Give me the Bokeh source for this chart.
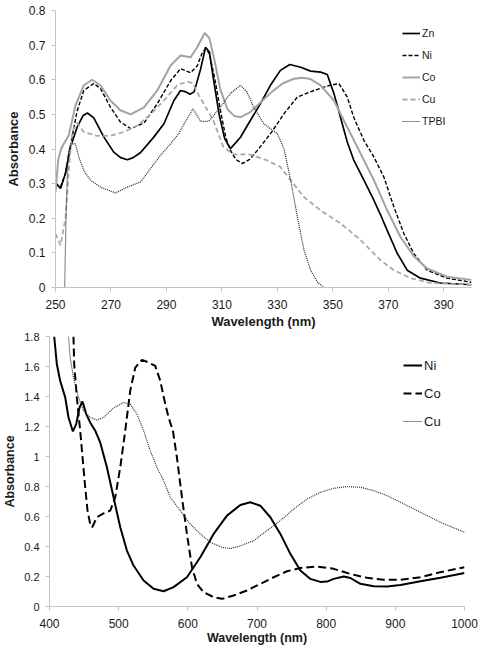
from bokeh.plotting import figure
from bokeh.models import Legend, LegendItem, FixedTicker, Range1d
from bokeh.layouts import column
from bokeh.embed import file_html
from bokeh.resources import INLINE

# ---------------- top chart data (UV region) ----------------
zn_x = [250, 251.8, 253.6, 255.4, 257.8, 260, 261.5, 263.8, 267.4, 271, 273.5, 275.9, 278, 280.7,
        285.5, 289.1, 292.7, 295.1, 297, 298.5, 300, 302.3, 304.1, 305.5, 307, 309, 311, 313.1,
        316.7, 320.3, 323.9, 327.5, 331.1, 334.5, 338.4, 342, 345.6, 348, 350.4, 352.8, 355.2,
        357.6, 361.2, 364.8, 367.2, 369.6, 373.2, 376.8, 381.6, 388.8, 400]
zn_y = [0.302, 0.286, 0.33, 0.406, 0.463, 0.497, 0.504, 0.49, 0.435, 0.391, 0.375, 0.369, 0.375, 0.39,
        0.435, 0.473, 0.54, 0.569, 0.565, 0.558, 0.565, 0.63, 0.694, 0.68, 0.6, 0.5, 0.43, 0.401,
        0.434, 0.483, 0.531, 0.584, 0.627, 0.644, 0.636, 0.625, 0.622, 0.615, 0.56, 0.49, 0.42,
        0.367, 0.31, 0.252, 0.21, 0.165, 0.099, 0.05, 0.027, 0.013, 0.008]

ni_x = [250, 251.8, 253.6, 255.4, 257.8, 260.2, 263.8, 266.2, 269.8, 273.4, 277.1, 281.9, 286.7,
        291.5, 295.1, 298.7, 301.1, 303, 304.3, 305.5, 307.5, 309.5, 311.5, 313.1, 315, 317.4, 320,
        322.8, 327.6, 332.4, 337.2, 343.2, 348, 352.2, 355.2, 357.6, 361.2, 364.8, 368.4, 372,
        375.6, 379.2, 384, 391.2, 400]
ni_y = [0.30, 0.29, 0.33, 0.41, 0.51, 0.569, 0.589, 0.575, 0.521, 0.478, 0.459, 0.475, 0.531,
        0.597, 0.632, 0.62, 0.64, 0.68, 0.69, 0.675, 0.6, 0.51, 0.43, 0.396, 0.37, 0.358, 0.37,
        0.396, 0.445, 0.502, 0.55, 0.569, 0.582, 0.589, 0.55, 0.49, 0.425, 0.377, 0.319, 0.233,
        0.156, 0.098, 0.05, 0.027, 0.015]

co_x = [250, 251, 252, 253, 254.8, 257.2, 260.2, 263.2, 266.2, 269.8, 273.4, 277.1, 281.9, 286.7,
        291.5, 295.1, 298.7, 301.1, 303.8, 305.5, 307.5, 309.5, 312, 314.5, 316.7, 320, 324, 328,
        332, 336, 339, 342, 345.6, 350.4, 355.2, 360, 364.8, 369.6, 374.4, 379.2, 384, 391.2, 400]
co_y = [0.275, 0.37, 0.40, 0.415, 0.44, 0.526, 0.584, 0.60, 0.584, 0.54, 0.512, 0.50, 0.52, 0.569,
        0.641, 0.67, 0.665, 0.694, 0.735, 0.72, 0.65, 0.57, 0.515, 0.495, 0.492, 0.505, 0.535, 0.565,
        0.59, 0.603, 0.606, 0.602, 0.584, 0.54, 0.463, 0.387, 0.31, 0.223, 0.146, 0.09, 0.055, 0.031,
        0.022]

cu_x = [250, 251.8, 253.6, 254.8, 256, 257.8, 260.2, 265, 269.8, 274.6, 279.5, 284.3, 289.1, 293.9,
        297.5, 299.5, 301.7, 303.5, 306.9, 310.5, 314.1, 320.3, 326.3, 331.1, 334.8, 339.6, 345.6,
        352.8, 360, 367.2, 372, 378, 385.2, 400]
cu_y = [0.156, 0.122, 0.2, 0.34, 0.45, 0.475, 0.449, 0.438, 0.438, 0.449, 0.468, 0.5, 0.54, 0.584,
        0.595, 0.59, 0.555, 0.53, 0.483, 0.406, 0.385, 0.384, 0.367, 0.348, 0.31, 0.261, 0.223,
        0.185, 0.137, 0.079, 0.05, 0.027, 0.013, 0.008]

tpbi_x = [253.3, 253.8, 254.5, 255.4, 257.2, 258.4, 260.2, 262.6, 266.2, 271.6, 275.9, 280.7, 284.3,
          287.9, 291.5, 294.5, 297.5, 299.6, 302.3, 305.3, 309.5, 313, 316.7, 319, 321.5, 325.1,
          330, 332.4, 334.8, 337.2, 339.6, 342, 344.5, 346.8]
tpbi_y = [0.0, 0.2, 0.38, 0.415, 0.415, 0.377, 0.338, 0.31, 0.29, 0.273, 0.29, 0.305, 0.344,
          0.382, 0.415, 0.445, 0.488, 0.516, 0.48, 0.48, 0.521, 0.56, 0.584, 0.565, 0.52, 0.473,
          0.444, 0.4, 0.31, 0.204, 0.108, 0.05, 0.015, 0.0]

top_xticks = [250, 270, 290, 310, 330, 350, 370, 390]
top_yticks = [0, 0.1, 0.2, 0.3, 0.4, 0.5, 0.6, 0.7, 0.8]
top_ylabels = ["0", "0.1", "0.2", "0.3", "0.4", "0.5", "0.6", "0.7", "0.8"]

# ---------------- bottom chart data (visible region) ----------------
b_ni_x = [406.8, 410.6, 415.4, 422.7, 427.5, 433.8, 438.6, 443.4, 447.7, 453.1, 458.8, 466.1, 473.3,
          483, 492.6, 502.3, 511.9, 521.5, 536, 550.5, 565, 579.4, 598.7, 618, 637.3, 656.6, 675.9,
          690.4, 704.8, 719.3, 733.8, 748.2, 762.7, 777.2, 791.6, 801.3, 810.9, 825.4, 835, 849.5,
          868.8, 888.1, 907.4, 936.3, 965.3, 1000]
b_ni_y = [1.8, 1.616, 1.505, 1.394, 1.26, 1.167, 1.216, 1.327, 1.367, 1.283, 1.227, 1.172, 1.094,
          0.928, 0.728, 0.528, 0.373, 0.273, 0.173, 0.118, 0.102, 0.129, 0.195, 0.328, 0.484, 0.606,
          0.677, 0.695, 0.672, 0.595, 0.484, 0.351, 0.24, 0.184, 0.164, 0.166, 0.184, 0.2, 0.19,
          0.151, 0.135, 0.133, 0.144, 0.169, 0.191, 0.224]

b_co_x = [434.7, 435.7, 439.5, 444.4, 448.2, 451.6, 455, 458.8, 461.7, 468.5, 478.1, 487.8, 495,
          502.3, 509.5, 516.7, 524, 533.6, 543.2, 552.9, 560.1, 567.4, 572.2, 578.5, 584.2, 591.5,
          598.7, 606, 613.2, 622.8, 637.3, 649.4, 666.2, 685.5, 704.8, 724.1, 743.4, 762.7, 786.8,
          810.9, 835, 859.2, 883.3, 907.4, 936.3, 965.3, 1000]
b_co_y = [1.8, 1.616, 1.394, 1.17, 0.972, 0.794, 0.639, 0.55, 0.528, 0.595, 0.621, 0.639, 0.728,
          0.928, 1.172, 1.438, 1.593, 1.644, 1.627, 1.604, 1.505, 1.349, 1.26, 1.17, 0.994, 0.728,
          0.484, 0.262, 0.151, 0.095, 0.062, 0.051, 0.073, 0.107, 0.151, 0.195, 0.235, 0.257, 0.266,
          0.251, 0.217, 0.191, 0.178, 0.178, 0.195, 0.229, 0.262]

b_cu_x = [427.5, 429.9, 434.7, 442, 449.2, 458.8, 468.5, 478.1, 492.6, 507.1, 516.7, 526.4, 536,
          545.7, 555.3, 565, 574.6, 589.1, 603.5, 618, 632.5, 649.4, 661.4, 675.9, 695.2, 714.5,
          733.8, 753.1, 772.4, 791.6, 810.9, 830.2, 849.5, 868.8, 888.1, 907.4, 926.7, 946, 965.3,
          984.6, 1000]
b_cu_y = [1.8, 1.66, 1.527, 1.394, 1.305, 1.26, 1.243, 1.26, 1.323, 1.36, 1.349, 1.283, 1.172,
          1.039, 0.928, 0.839, 0.728, 0.639, 0.55, 0.484, 0.428, 0.395, 0.386, 0.404, 0.439, 0.506,
          0.573, 0.65, 0.717, 0.761, 0.788, 0.799, 0.795, 0.772, 0.739, 0.695, 0.65, 0.606, 0.561,
          0.524, 0.495]

bot_xticks = [400, 500, 600, 700, 800, 900, 1000]
bot_yticks = [0, 0.2, 0.4, 0.6, 0.8, 1.0, 1.2, 1.4, 1.6, 1.8]
bot_ylabels = ["0", "0.2", "0.4", "0.6", "0.8", "1", "1.2", "1.4", "1.6", "1.8"]

FONT = "Liberation Sans"
AXIS_COL = "#c4c4c4"
TXT = "#1a1a1a"


def style(p, xticks, yticks, ylabels, xlabel_size, ylabel_size, ytick_size,
          x_std, x_lab_std, y_std, y_lab_std):
    p.grid.visible = False
    p.outline_line_color = None
    p.xaxis.ticker = FixedTicker(ticks=xticks)
    p.yaxis.ticker = FixedTicker(ticks=yticks)
    p.yaxis.major_label_overrides = {t: l for t, l in zip(yticks, ylabels)}
    for ax in (p.xaxis[0], p.yaxis[0]):
        ax.axis_line_color = AXIS_COL
        ax.major_tick_line_color = AXIS_COL
        ax.minor_tick_line_color = None
        ax.major_tick_in = 0
        ax.major_tick_out = 4
        ax.major_label_text_font = FONT
        ax.major_label_text_color = TXT
        ax.axis_label_text_font = FONT
        ax.axis_label_text_font_style = "bold"
        ax.axis_label_text_color = TXT
    p.xaxis.major_label_text_font_size = "12px"
    p.yaxis.major_label_text_font_size = ytick_size
    p.xaxis.axis_label_text_font_size = xlabel_size
    p.yaxis.axis_label_text_font_size = ylabel_size
    p.xaxis.major_label_standoff = x_std
    p.xaxis.axis_label_standoff = x_lab_std
    p.yaxis.major_label_standoff = y_std
    p.yaxis.axis_label_standoff = y_lab_std


# ---------------- top figure ----------------
p1 = figure(width=483, height=331, output_backend="svg", toolbar_location=None,
            x_range=Range1d(250, 400), y_range=Range1d(0, 0.8), frame_align=False,
            min_border_left=55, min_border_right=12, min_border_top=10, min_border_bottom=44)
p1.xaxis.axis_label = "Wavelength (nm)"
p1.yaxis.axis_label = "Absorbance"
style(p1, top_xticks, top_yticks, top_ylabels, "13px", "13px", "12px", 8, 2, 6, 5)

r_zn = p1.line(zn_x, zn_y, line_color="black", line_width=1.7)
r_ni = p1.line(ni_x, ni_y, line_color="black", line_width=1.4, line_dash="4 2")
r_co = p1.line(co_x, co_y, line_color="#a3a3a3", line_width=2.0)
r_cu = p1.line(cu_x, cu_y, line_color="#aaaaaa", line_width=1.8, line_dash="5 3")
r_tp = p1.line(tpbi_x, tpbi_y, line_color="#222222", line_width=1.2, line_dash="1 1")

leg1 = Legend(items=[LegendItem(label="Zn", renderers=[r_zn]),
                     LegendItem(label="Ni", renderers=[r_ni]),
                     LegendItem(label="Co", renderers=[r_co]),
                     LegendItem(label="Cu", renderers=[r_cu]),
                     LegendItem(label="TPBI", renderers=[r_tp])],
              location=(347, 158), orientation="vertical",
              glyph_width=18, glyph_height=16, label_height=16, spacing=6,
              label_standoff=2, padding=0, margin=0,
              label_text_font=FONT, label_text_font_size="10.5px", label_text_color=TXT,
              border_line_color=None, background_fill_alpha=0)
p1.add_layout(leg1)

# ---------------- bottom figure ----------------
p2 = figure(width=483, height=321, output_backend="svg", toolbar_location=None,
            x_range=Range1d(400, 1000), y_range=Range1d(0, 1.8), frame_align=False,
            min_border_left=49, min_border_right=19, min_border_top=5, min_border_bottom=46)
p2.xaxis.axis_label = "Wavelength (nm)"
p2.yaxis.axis_label = "Absorbance"
style(p2, bot_xticks, bot_yticks, bot_ylabels, "12.5px", "12.5px", "11px", 8, 0, 6, 4)

q_ni = p2.line(b_ni_x, b_ni_y, line_color="black", line_width=2.0)
q_co = p2.line(b_co_x, b_co_y, line_color="black", line_width=2.0, line_dash="8 4")
q_cu = p2.line(b_cu_x, b_cu_y, line_color="#222222", line_width=1.1, line_dash="1 1")

leg2 = Legend(items=[LegendItem(label="Ni", renderers=[q_ni]),
                     LegendItem(label="Co", renderers=[q_co]),
                     LegendItem(label="Cu", renderers=[q_cu])],
              location=(354, 175), orientation="vertical",
              glyph_width=19, glyph_height=20, label_height=20, spacing=8,
              label_standoff=2, padding=0, margin=0,
              label_text_font=FONT, label_text_font_size="13px", label_text_color=TXT,
              border_line_color=None, background_fill_alpha=0)
p2.add_layout(leg2)

layout = column(p1, p2, spacing=0)
open("out.html", "w").write(file_html(layout, INLINE))
